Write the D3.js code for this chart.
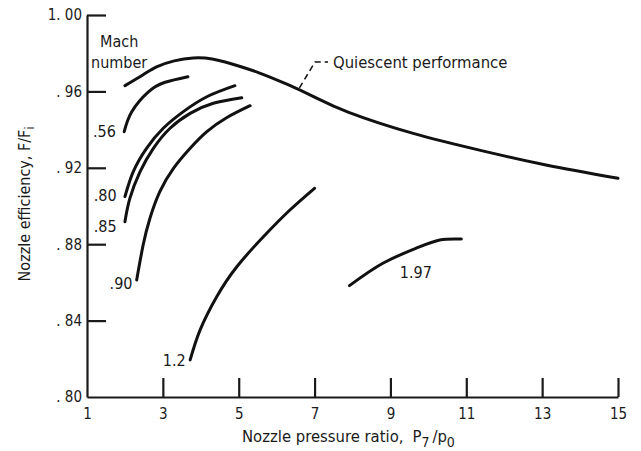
<!DOCTYPE html>
<html>
<head>
<meta charset="utf-8">
<script src="https://cdn.jsdelivr.net/npm/d3@7"></script>
<style>
  body { margin: 0; background: #fff; }
  svg text { font-family: "Liberation Sans Narrow", "DejaVu Sans Condensed", "Arial Narrow", sans-serif; fill: #1a1a1a; }
  .axis path, .axis line { stroke: #1a1a1a; stroke-width: 2.2; }
  .curve { fill: none; stroke: #111; stroke-width: 3; stroke-linecap: round; }
</style>
</head>
<body>
<svg id="chart" width="641" height="451"></svg>
<script>
// tick values
var xTicks = [1, 3, 5, 7, 9, 11, 13, 15];
var yTicks = [0.80, 0.84, 0.88, 0.92, 0.96, 1.00];

// quiescent performance (pressure ratio, efficiency)
var quiescent = [[2.0,0.963],[2.5,0.969],[2.85,0.973],[3.3,0.976],[3.8,0.9775],[4.3,0.977],
  [4.8,0.9745],[5.5,0.970],[6.3,0.9635],[7.0,0.957],[7.9,0.949],[9.6,0.938],[11.4,0.929],
  [13.1,0.9215],[15,0.9145]];

// flight curves by Mach number
var machLabels = [".56", ".80", ".85", ".90", "1.2", "1.97"];
var mach056 = [[1.98,0.9389],[2.18,0.9494],[2.62,0.9598],[3.06,0.9648],[3.66,0.9677]];
var mach080 = [[2.0,0.9049],[2.22,0.918],[2.57,0.9302],[3.01,0.9407],[3.54,0.9494],[4.16,0.9572],[4.9,0.963]];
var mach085 = [[2.0,0.8918],[2.13,0.904],[2.4,0.918],[2.75,0.9302],[3.19,0.9407],[3.72,0.9485],[4.33,0.9538],[5.08,0.9567]];
var mach090 = [[2.31,0.8613],[2.48,0.8796],[2.66,0.8936],[2.92,0.9075],[3.28,0.9197],[3.72,0.9302],[4.16,0.9389],[4.68,0.9462],[5.3,0.9525]];
var mach120 = [[3.72,0.8194],[3.98,0.835],[4.42,0.8525],[4.95,0.8682],[5.65,0.8839],[6.35,0.8979],[7.0,0.9093]];
var mach197 = [[7.92,0.8583],[8.8,0.870],[9.68,0.8779],[10.3,0.8822],[10.87,0.8827]];

var svg = d3.select("#chart");

var x = d3.scaleLinear().domain([1, 15]).range([87, 618]);
var y = d3.scaleLinear().domain([0.80, 1.00]).range([397, 15]);

function yFmt(d) {
  var s = d3.format(".2f")(d);
  return d >= 1 ? "1. " + s.slice(2) : ". " + s.slice(2);
}

var yAxis = svg.append("g")
  .attr("class", "axis")
  .attr("transform", "translate(87,0)")
  .call(d3.axisLeft(y).tickValues(yTicks).tickFormat(yFmt).tickSizeInner(-19).tickSizeOuter(0).tickPadding(5));

var xAxis = svg.append("g")
  .attr("class", "axis")
  .attr("transform", "translate(0,397)")
  .call(d3.axisBottom(x).tickValues(xTicks).tickFormat(d3.format("d")).tickSizeInner(-19).tickSizeOuter(0).tickPadding(8));

// the corner gets no tick marks
yAxis.selectAll(".tick").filter(function(d){ return d === 0.80; }).select("line").remove();
xAxis.selectAll(".tick").filter(function(d){ return d === 1; }).select("line").remove();
svg.selectAll(".axis text").style("font-size", "15px");
xAxis.selectAll("text").attr("dy", "0.9em");

var line = d3.line()
  .x(function(d){ return x(d[0]); })
  .y(function(d){ return y(d[1]); })
  .curve(d3.curveNatural);

var curves = [quiescent, mach056, mach080, mach085, mach090, mach120, mach197];
svg.selectAll(".curve")
  .data(curves)
  .enter().append("path")
  .attr("class", "curve")
  .attr("d", line);

// Mach number labels, anchored near the start of each curve
var labelPos = [
  { t: machLabels[0], px: 1.76, py: 0.9393, a: "end" },
  { t: machLabels[1], px: 1.78, py: 0.9058, a: "end" },
  { t: machLabels[2], px: 1.78, py: 0.8895, a: "end" },
  { t: machLabels[3], px: 2.2, py: 0.8595, a: "end" },
  { t: machLabels[4], px: 3.6, py: 0.819, a: "end" },
  { t: machLabels[5], px: 9.67, py: 0.8654, a: "middle" }
];
svg.selectAll(".machLabel")
  .data(labelPos)
  .enter().append("text")
  .attr("class", "machLabel")
  .attr("x", function(d){ return x(d.px); })
  .attr("y", function(d){ return y(d.py); })
  .attr("dy", "0.35em")
  .attr("text-anchor", function(d){ return d.a; })
  .style("font-size", "16px")
  .text(function(d){ return d.t; });

svg.append("text").attr("x", 100).attr("y", 47).style("font-size", "16px").text("Mach");
svg.append("text").attr("x", 91).attr("y", 68).style("font-size", "16px").text("number");

// leader to quiescent curve
var lx = 6.6;
svg.append("path")
  .attr("d", "M" + x(lx) + "," + y(0.9618) + " L315,62 L328,62")
  .attr("fill", "none")
  .attr("stroke", "#111")
  .attr("stroke-width", 1.5)
  .attr("stroke-dasharray", "6,4");
svg.append("text").attr("x", 333).attr("y", 62).attr("dy", "0.35em")
  .style("font-size", "16.5px").text("Quiescent performance");

// axis titles
var xt = svg.append("text").attr("x", 242).attr("y", 442).style("font-size", "16.5px");
xt.append("tspan").text("Nozzle pressure ratio,");
xt.append("tspan").attr("dx", 9).text("P");
xt.append("tspan").attr("dy", 5).style("font-size", "14px").text("7");
xt.append("tspan").attr("dy", -5).attr("dx", 3).text("/p");
xt.append("tspan").attr("dy", 5).style("font-size", "14px").text("0");

var yt = svg.append("text")
  .attr("transform", "translate(30,204) rotate(-90)")
  .attr("text-anchor", "middle")
  .style("font-size", "16px");
yt.append("tspan").text("Nozzle efficiency,  F/F");
yt.append("tspan").attr("dy", 4).style("font-size", "12px").text("i");
</script>
</body>
</html>
